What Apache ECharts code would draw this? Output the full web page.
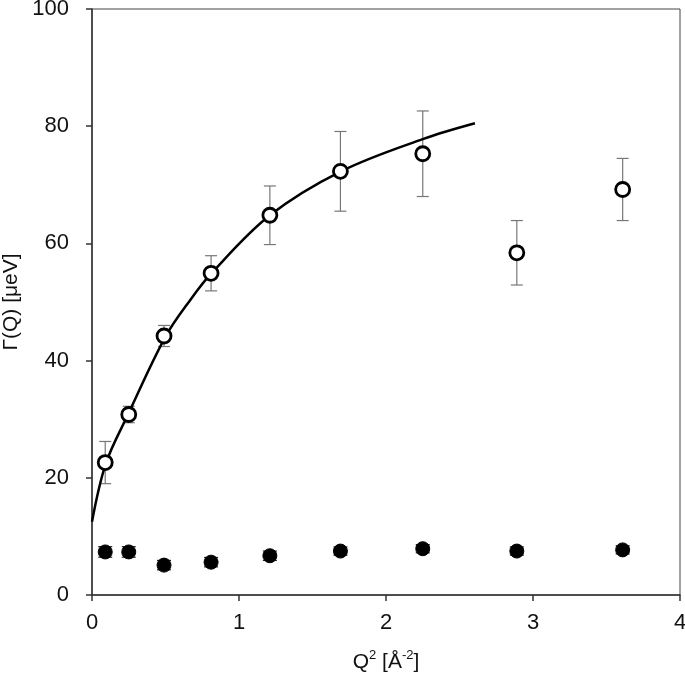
<!DOCTYPE html>
<html>
<head>
<meta charset="utf-8">
<script src="https://cdn.jsdelivr.net/npm/echarts@6/dist/echarts.min.js"></script>
<style>
  html, body { margin: 0; padding: 0; background: #fff; }
  #chart { width: 685px; height: 678px; }
</style>
</head>
<body>
<div id="chart"></div>
<script>
// Q^2 values (Å^-2)
var q2 = [0.09, 0.25, 0.49, 0.81, 1.21, 1.69, 2.25, 2.89, 3.61];
// open circles: Γ(Q) and error
var openVal = [22.6, 30.8, 44.2, 54.9, 64.8, 72.3, 75.3, 58.4, 69.2];
var openErr = [3.6, 1.4, 1.8, 3.0, 5.0, 6.8, 7.3, 5.5, 5.3];
// filled circles
var fillVal = [7.35, 7.35, 5.1, 5.6, 6.7, 7.5, 7.9, 7.5, 7.7];
var fillErr = [0.9, 0.9, 0.8, 0.8, 0.8, 0.7, 0.7, 0.7, 0.7];
// fit curve
var fitX = [0, 0.095, 0.245, 0.5, 0.67, 0.816, 1.21, 1.694, 2.25, 2.605];
var fitY = [12.5, 22.5, 30.8, 44.1, 50.4, 55.0, 64.8, 72.3, 77.8, 80.5];
var xTicks = [0, 1, 2, 3, 4];
var yTicks = [0, 20, 40, 60, 80, 100];

var chart = echarts.init(document.getElementById('chart'));

function pairs(xs, ys) {
  return xs.map(function (x, i) { return [x, ys[i]]; });
}
function errData(vals, errs) {
  return q2.map(function (x, i) { return [x, vals[i] - errs[i], vals[i] + errs[i]]; });
}
function errRender(capHalf, color) {
  return function (params, api) {
    var lo = api.coord([api.value(0), api.value(1)]);
    var hi = api.coord([api.value(0), api.value(2)]);
    var st = { stroke: color, lineWidth: 1.2 };
    return {
      type: 'group',
      children: [
        { type: 'line', shape: { x1: lo[0], y1: lo[1], x2: hi[0], y2: hi[1] }, style: st },
        { type: 'line', shape: { x1: lo[0] - capHalf, y1: lo[1], x2: lo[0] + capHalf, y2: lo[1] }, style: st },
        { type: 'line', shape: { x1: hi[0] - capHalf, y1: hi[1], x2: hi[0] + capHalf, y2: hi[1] }, style: st }
      ]
    };
  };
}

var font = 'Liberation Sans, Arial, sans-serif';

chart.setOption({
  animation: false,
  grid: {
    left: 92, right: 5, top: 9, bottom: 83,
    outerBoundsMode: 'none', containLabel: false,
    show: true, borderColor: '#444', borderWidth: 1
  },
  xAxis: {
    type: 'value', min: 0, max: 4, interval: 1,
    axisLine: { onZero: false, lineStyle: { color: '#333', width: 1.5 } },
    axisTick: { show: true, inside: false, length: 6, lineStyle: { color: '#333', width: 1.5 } },
    splitLine: { show: false },
    axisLabel: { color: '#111', fontSize: 22, fontFamily: font, margin: 17,
      formatter: function (v) { return xTicks.indexOf(v) >= 0 ? String(v) : ''; } },
    name: '{b|Q}{s|2}{b| [Å}{s|-2}{b|]}',
    nameLocation: 'middle', nameGap: 54,
    nameTextStyle: {
      rich: {
        b: { fontSize: 21, fontFamily: font, color: '#111', verticalAlign: 'bottom', lineHeight: 24 },
        s: { fontSize: 13, fontFamily: font, color: '#111', verticalAlign: 'top', lineHeight: 24 }
      }
    }
  },
  yAxis: {
    type: 'value', min: 0, max: 100, interval: 20,
    axisLine: { onZero: false, lineStyle: { color: '#333', width: 1.5 } },
    axisTick: { show: true, inside: false, length: 6, lineStyle: { color: '#333', width: 1.5 } },
    splitLine: { show: false },
    axisLabel: { color: '#111', fontSize: 22, fontFamily: font, margin: 23,
      formatter: function (v) { return yTicks.indexOf(v) >= 0 ? String(v) : ''; } },
    name: 'Γ(Q) [μeV]',
    nameLocation: 'middle', nameGap: 67, nameRotate: 90,
    nameTextStyle: { fontSize: 21, fontFamily: font, color: '#111' }
  },
  series: [
    {
      type: 'line', data: pairs(fitX, fitY), smooth: 0.35, showSymbol: false,
      lineStyle: { color: '#000', width: 2.5 }, z: 3
    },
    {
      type: 'custom', data: errData(openVal, openErr), renderItem: errRender(6, '#777'),
      encode: { x: 0, y: [1, 2] }, z: 2
    },
    {
      type: 'custom', data: errData(fillVal, fillErr), renderItem: errRender(7, '#222'),
      encode: { x: 0, y: [1, 2] }, z: 2
    },
    {
      type: 'scatter', data: pairs(q2, openVal), symbol: 'circle', symbolSize: 14,
      itemStyle: { color: '#fff', borderColor: '#000', borderWidth: 2.8, opacity: 1 }, z: 4
    },
    {
      type: 'scatter', data: pairs(q2, fillVal), symbol: 'circle', symbolSize: 14,
      itemStyle: { color: '#000', borderColor: '#000', borderWidth: 1, opacity: 1 }, z: 4
    }
  ]
});
</script>
</body>
</html>
